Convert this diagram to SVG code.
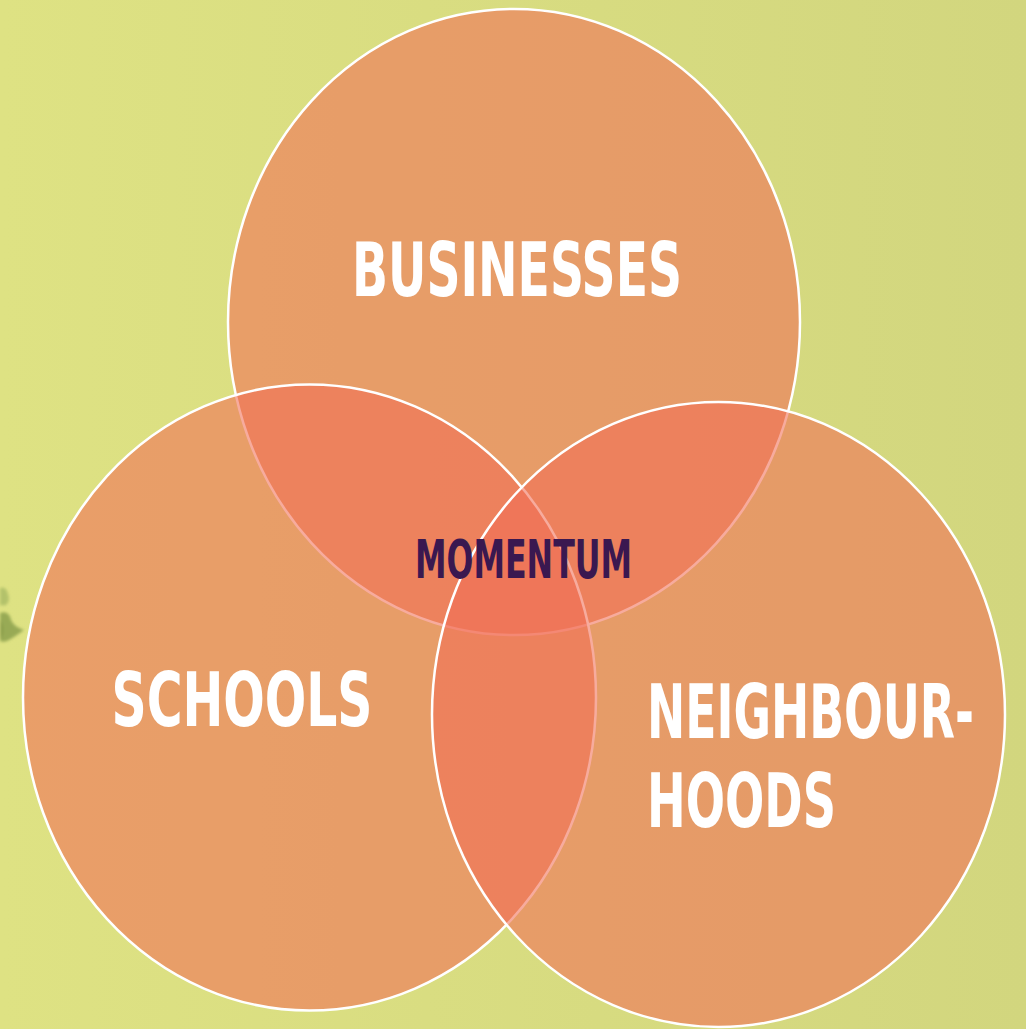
<svg xmlns="http://www.w3.org/2000/svg" width="1026" height="1029" viewBox="0 0 1026 1029">
  <defs>
    <linearGradient id="bg" x1="0" y1="0" x2="1" y2="0">
      <stop offset="0" stop-color="#dee283"/>
      <stop offset="1" stop-color="#d2d67e"/>
    </linearGradient>
    <filter id="soft" x="-50%" y="-50%" width="200%" height="200%">
      <feGaussianBlur stdDeviation="1.5"/>
    </filter>
  </defs>
  <style>
    .set { fill: #f16e57; fill-opacity: 0.58; stroke: #ffffff; stroke-width: 2.5; }
    .label { font-family: "Liberation Sans Narrow", "DejaVu Sans Condensed", "Liberation Sans", sans-serif; font-weight: bold; fill: #ffffff; }
    .core { font-family: "Liberation Sans Narrow", "DejaVu Sans Condensed", "Liberation Sans", sans-serif; font-weight: bold; fill: #3a1850; }
  </style>

  <rect width="1026" height="1029" fill="url(#bg)"/>

  <!-- small leafy sprig at the left edge -->
  <g id="sprig" filter="url(#soft)">
    <path d="M0 588 Q6 586 8 594 Q11 601 5 606 Q2 604 0 606 Z" fill="#b3c26a"/>
    <path d="M0 613 Q9 610 11 620 Q14 627 24 630 Q16 636 9 640 Q4 643 0 641 Z" fill="#98aa55"/>
    <path d="M0 620 Q4 624 3 633 Q2 638 0 639 Z" fill="#8a9c4c"/>
  </g>

  <g id="businesses">
    <ellipse class="set" cx="514" cy="322" rx="286" ry="313"/>
    <text class="label" x="517" y="296" font-size="74" text-anchor="middle" textLength="330" lengthAdjust="spacingAndGlyphs">BUSINESSES</text>
  </g>

  <g id="schools">
    <ellipse class="set" cx="309.5" cy="697.5" rx="286.5" ry="313"/>
    <text class="label" x="242" y="726" font-size="74" text-anchor="middle" textLength="261" lengthAdjust="spacingAndGlyphs">SCHOOLS</text>
  </g>

  <g id="neighbourhoods">
    <ellipse class="set" cx="718.5" cy="714.5" rx="286.5" ry="312.5"/>
    <text class="label" x="647" y="738" font-size="74" textLength="327" lengthAdjust="spacingAndGlyphs">NEIGHBOUR-</text>
    <text class="label" x="647" y="827" font-size="74" textLength="189" lengthAdjust="spacingAndGlyphs">HOODS</text>
  </g>

  <g id="momentum">
    <text class="core" x="523.5" y="578" font-size="53" text-anchor="middle" textLength="217" lengthAdjust="spacingAndGlyphs">MOMENTUM</text>
  </g>
</svg>
